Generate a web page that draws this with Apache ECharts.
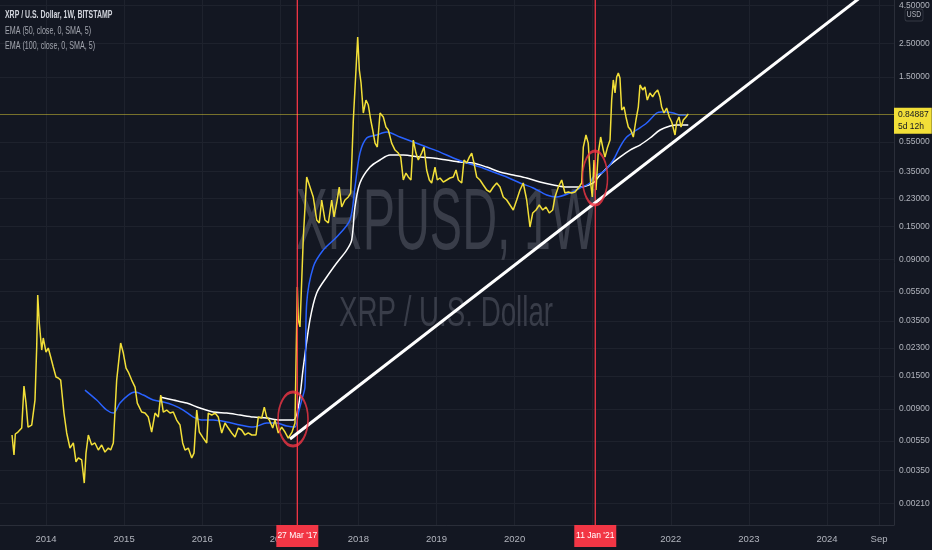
<!DOCTYPE html>
<html>
<head>
<meta charset="utf-8">
<script src="https://cdn.jsdelivr.net/npm/echarts@6/dist/echarts.min.js"></script>
<style>
  html, body { margin: 0; padding: 0; background: #131722; }
  #main { width: 932px; height: 550px; }
</style>
</head>
<body>
<div id="main"></div>
<script>
// x values are decimal years, y values are XRP/USD prices (weekly close)
var xrpClose = [
  [2013.565,0.00604],[2013.590,0.00444],[2013.607,0.00613],[2013.641,0.00632],[2013.689,0.00672],
  [2013.718,0.01283],[2013.744,0.00987],[2013.770,0.00682],[2013.817,0.00704],[2013.859,0.01034],
  [2013.881,0.0234],[2013.894,0.0521],[2013.914,0.0339],[2013.945,0.02234],[2013.965,0.0269],
  [2014.000,0.02166],[2014.029,0.02305],[2014.060,0.02006],[2014.093,0.0172],[2014.128,0.01474],
  [2014.157,0.01452],[2014.188,0.01407],[2014.230,0.00847],[2014.265,0.00623],[2014.307,0.00494],
  [2014.350,0.00534],[2014.384,0.00399],[2014.414,0.00424],[2014.457,0.00411],[2014.490,0.00288],
  [2014.512,0.00457],[2014.542,0.00604],[2014.585,0.00518],[2014.627,0.00534],[2014.670,0.00479],
  [2014.713,0.00518],[2014.755,0.00464],[2014.798,0.00494],[2014.828,0.00479],[2014.862,0.00534],
  [2014.905,0.01407],[2014.956,0.0249],[2014.990,0.02133],[2015.025,0.01693],[2015.054,0.01592],
  [2015.097,0.01407],[2015.140,0.01263],[2015.169,0.00987],[2015.225,0.0086],[2015.268,0.00847],
  [2015.310,0.00796],[2015.353,0.00632],[2015.396,0.00847],[2015.438,0.00796],[2015.469,0.01117],
  [2015.502,0.0086],[2015.545,0.00887],[2015.588,0.00847],[2015.630,0.0086],[2015.673,0.0076],
  [2015.716,0.00704],[2015.750,0.00534],[2015.780,0.00479],[2015.822,0.00494],[2015.866,0.00424],
  [2015.895,0.00457],[2015.930,0.00887],[2015.963,0.00632],[2016.014,0.00576],[2016.058,0.00534],
  [2016.078,0.00847],[2016.122,0.00821],[2016.164,0.00847],[2016.206,0.00796],[2016.250,0.00623],
  [2016.292,0.00726],[2016.334,0.00672],[2016.378,0.00623],[2016.420,0.00585],[2016.462,0.00672],
  [2016.506,0.00652],[2016.548,0.00604],[2016.590,0.00623],[2016.634,0.00604],[2016.689,0.00604],
  [2016.718,0.00796],[2016.762,0.00784],[2016.795,0.00928],[2016.826,0.00796],[2016.859,0.0076],
  [2016.903,0.00672],[2016.932,0.0076],[2016.974,0.00623],[2017.018,0.00682],[2017.060,0.00632],
  [2017.102,0.00576],[2017.124,0.00585],[2017.150,0.00632],[2017.188,0.00726],[2017.218,0.059],
  [2017.231,0.0355],[2017.252,0.0319],[2017.274,0.0319],[2017.295,0.1273],[2017.338,0.321],
  [2017.380,0.275],[2017.422,0.2359],[2017.466,0.1655],[2017.499,0.158],[2017.530,0.2252],
  [2017.572,0.1655],[2017.615,0.158],[2017.658,0.2252],[2017.688,0.1734],[2017.722,0.215],
  [2017.755,0.275],[2017.786,0.2022],[2017.828,0.2252],[2017.871,0.2359],[2017.901,0.2508],
  [2017.935,0.772],[2017.969,1.668],[2017.991,2.774],[2018.012,1.668],[2018.034,1.365],
  [2018.063,0.860],[2018.097,1.05],[2018.127,0.972],[2018.158,0.772],[2018.183,0.662],
  [2018.213,0.541],[2018.242,0.509],[2018.277,0.860],[2018.319,0.809],[2018.353,0.693],
  [2018.383,0.662],[2018.426,0.541],[2018.469,0.486],[2018.511,0.464],[2018.542,0.436],
  [2018.575,0.3065],[2018.609,0.341],[2018.639,0.321],[2018.673,0.3065],[2018.703,0.567],
  [2018.737,0.464],[2018.767,0.417],[2018.810,0.464],[2018.840,0.509],[2018.874,0.3575],
  [2018.908,0.3065],[2018.938,0.2927],[2018.981,0.374],[2019.010,0.3065],[2019.045,0.316],
  [2019.087,0.297],[2019.131,0.3065],[2019.173,0.316],[2019.215,0.321],[2019.250,0.3575],
  [2019.280,0.3065],[2019.323,0.2927],[2019.352,0.417],[2019.387,0.398],[2019.420,0.436],
  [2019.451,0.464],[2019.480,0.398],[2019.515,0.321],[2019.557,0.3065],[2019.599,0.2838],
  [2019.643,0.2627],[2019.685,0.2547],[2019.727,0.275],[2019.771,0.2927],[2019.813,0.275],
  [2019.855,0.2359],[2019.899,0.2252],[2019.941,0.2085],[2019.983,0.1931],[2020.027,0.2252],
  [2020.069,0.2627],[2020.111,0.2927],[2020.155,0.2252],[2020.197,0.1486],[2020.232,0.1844],
  [2020.274,0.1931],[2020.316,0.2085],[2020.360,0.1931],[2020.402,0.2022],[2020.444,0.1844],
  [2020.488,0.1931],[2020.517,0.2359],[2020.560,0.275],[2020.603,0.3065],[2020.645,0.2508],
  [2020.688,0.2547],[2020.731,0.2508],[2020.773,0.2547],[2020.816,0.271],[2020.859,0.2927],
  [2020.880,0.509],[2020.914,0.613],[2020.943,0.541],[2020.974,0.2927],[2020.995,0.2359],
  [2021.017,0.417],[2021.042,0.2627],[2021.071,0.464],[2021.102,0.594],[2021.136,0.486],
  [2021.157,0.436],[2021.187,0.501],[2021.222,0.567],[2021.243,1.05],[2021.264,1.43],
  [2021.286,1.171],[2021.307,1.498],[2021.328,1.593],[2021.349,1.475],[2021.371,0.901],
  [2021.401,0.943],[2021.426,0.809],[2021.456,0.693],[2021.487,0.662],[2021.520,0.594],
  [2021.554,0.772],[2021.584,0.943],[2021.606,1.324],[2021.640,1.226],[2021.669,1.284],
  [2021.699,1.05],[2021.733,1.171],[2021.768,1.101],[2021.797,1.171],[2021.832,1.226],
  [2021.861,1.101],[2021.883,0.943],[2021.913,0.860],[2021.947,0.928],[2021.981,0.809],
  [2022.012,0.749],[2022.054,0.613],[2022.076,0.749],[2022.105,0.809],[2022.131,0.693],
  [2022.160,0.772],[2022.195,0.809],[2022.224,0.849]
];

var ema50 = [
  [2014.499,0.01206],[2014.649,0.01034],[2014.777,0.00887],[2014.862,0.00847],[2014.947,0.00987],
  [2015.054,0.01117],[2015.140,0.01169],[2015.246,0.01117],[2015.374,0.01034],[2015.502,0.01003],
  [2015.630,0.00957],[2015.758,0.00887],[2015.886,0.00796],[2016.014,0.0076],[2016.142,0.0076],
  [2016.314,0.00737],[2016.484,0.00704],[2016.654,0.00682],[2016.826,0.00726],[2016.954,0.00726],
  [2017.082,0.00693],[2017.188,0.00682],[2017.231,0.00847],[2017.274,0.01034],[2017.316,0.01263],
  [2017.338,0.0461],[2017.422,0.0803],[2017.550,0.1042],[2017.722,0.1273],[2017.892,0.1655],
  [2017.956,0.275],[2018.020,0.464],[2018.106,0.585],[2018.234,0.613],[2018.362,0.642],
  [2018.533,0.594],[2018.703,0.550],[2018.874,0.509],[2019.045,0.471],[2019.215,0.430],
  [2019.387,0.398],[2019.557,0.374],[2019.727,0.347],[2019.899,0.321],[2020.069,0.2927],
  [2020.239,0.271],[2020.411,0.2432],[2020.539,0.2359],[2020.709,0.2508],[2020.837,0.271],
  [2020.965,0.2927],[2021.007,0.321],[2021.136,0.347],[2021.264,0.417],[2021.349,0.509],
  [2021.435,0.594],[2021.563,0.662],[2021.691,0.737],[2021.819,0.860],[2021.883,0.874],
  [2021.947,0.874],[2022.032,0.860],[2022.118,0.834],[2022.203,0.834]
];

var ema100 = [
  [2015.460,0.01083],[2015.630,0.01034],[2015.802,0.00987],[2015.972,0.00914],[2016.142,0.0086],
  [2016.314,0.00847],[2016.484,0.00821],[2016.654,0.00796],[2016.826,0.00784],[2016.996,0.0076],
  [2017.166,0.0076],[2017.231,0.00928],[2017.295,0.0172],[2017.380,0.0355],[2017.466,0.0538],
  [2017.594,0.0688],[2017.722,0.0854],[2017.850,0.1042],[2017.914,0.1216],[2017.956,0.2022],
  [2018.020,0.2927],[2018.149,0.374],[2018.277,0.417],[2018.405,0.450],[2018.575,0.450],
  [2018.789,0.436],[2018.959,0.430],[2019.131,0.417],[2019.301,0.404],[2019.471,0.398],
  [2019.643,0.374],[2019.813,0.347],[2019.983,0.331],[2020.155,0.316],[2020.325,0.297],
  [2020.496,0.2838],[2020.667,0.275],[2020.837,0.275],[2021.007,0.2927],[2021.093,0.331],
  [2021.222,0.386],[2021.349,0.436],[2021.478,0.486],[2021.606,0.525],[2021.734,0.585],
  [2021.862,0.662],[2021.990,0.704],[2022.076,0.715],[2022.224,0.715]
];

var trendLine = [[2017.124, 0.00568], [2024.858, 7.61]];
var circleMarks = [[2017.163, 0.00772], [2021.030, 0.316]];
var circleSizes = [[30, 54], [25, 54]];

var eventDates = [2017.218, 2021.033];
var eventLabels = ["27 Mar '17", "11 Jan '21"];
var lastPrice = 0.84887;
var lastPriceLabel = '0.84887\n5d 12h';

var yMin = 0.00151, yMax = 4.9;
var yTicks = [4.5, 2.5, 1.5, 0.55, 0.35, 0.23, 0.15, 0.09, 0.055, 0.035, 0.023, 0.015, 0.009, 0.0055, 0.0035, 0.0021];
var xTicks = [2014, 2015, 2016, 2017, 2018, 2019, 2020, 2021, 2022, 2023, 2024, 2024.666];
var xTickLabels = ['2014', '2015', '2016', '2017', '2018', '2019', '2020', '2021', '2022', '2023', '2024', 'Sep'];

var font = "'Liberation Sans', Arial, sans-serif";
var gridColor = '#1e222d';
var textColor = '#b2b5be';
var red = '#f23645';

var myChart = echarts.init(document.getElementById('main'));

// one thin red vertical line per event, with its date box under the time axis
var eventSeries = eventDates.map(function (d, i) {
    return {
        name: 'Event ' + (i + 1),
        type: 'line',
        data: [[d, yMin], [d, yMax]],
        showSymbol: false,
        lineStyle: { color: red, width: 1.3 },
        z: 4,
        markPoint: {
            silent: true,
            symbol: 'rect',
            symbolSize: [42, 22],
            symbolOffset: [0, 11],
            itemStyle: { color: red },
            label: {
                show: true,
                position: 'inside',
                formatter: eventLabels[i],
                color: '#ffffff',
                fontFamily: font,
                fontSize: 8.5
            },
            data: [{ coord: [d, yMin] }]
        }
    };
});

var option = {
    backgroundColor: '#131722',
    animation: false,
    grid: { left: 0, right: 38, top: 0, bottom: 25, outerBoundsMode: 'none', containLabel: false },
    xAxis: {
        type: 'value',
        min: 2013.411,
        max: 2024.858,
        axisLine: { show: true, lineStyle: { color: '#2a2e39' } },
        axisTick: { show: false, customValues: xTicks },
        splitLine: { show: true, lineStyle: { color: gridColor } },
        axisLabel: {
            customValues: xTicks,
            color: textColor,
            fontFamily: font,
            fontSize: 9.5,
            margin: 9,
            formatter: function (v) {
                var i = xTicks.indexOf(v);
                return i >= 0 ? xTickLabels[i] : '';
            }
        }
    },
    yAxis: {
        type: 'log',
        logBase: 10,
        position: 'right',
        min: yMin,
        max: yMax,
        axisLine: { show: true, lineStyle: { color: '#2a2e39' } },
        axisTick: { show: false, customValues: yTicks },
        splitLine: { show: true, lineStyle: { color: gridColor } },
        axisLabel: {
            customValues: yTicks,
            color: textColor,
            fontFamily: font,
            fontSize: 8.5,
            margin: 5,
            formatter: function (v) { return Number(v).toFixed(5); }
        }
    },
    graphic: [
        { type: 'text', x: 446, y: 225, z: 1, scaleX: 0.55, silent: true,
          style: { text: 'XRPUSD, 1W', fontSize: 88, fontFamily: 'Liberation Sans', fill: '#393d49', align: 'center', verticalAlign: 'middle' } },
        { type: 'text', x: 446, y: 314, z: 1, scaleX: 0.66, silent: true,
          style: { text: 'XRP / U.S. Dollar', fontSize: 42, fontFamily: 'Liberation Sans', fill: '#393d49', align: 'center', verticalAlign: 'middle' } },
        { type: 'text', x: 5, y: 15, z: 10, scaleX: 0.66,
          style: { text: 'XRP / U.S. Dollar, 1W, BITSTAMP', fontSize: 10.5, fontWeight: 'bold', fontFamily: 'Liberation Sans', fill: '#d1d4dc', verticalAlign: 'middle' } },
        { type: 'text', x: 5, y: 31, z: 10, scaleX: 0.68,
          style: { text: 'EMA (50, close, 0, SMA, 5)', fontSize: 10.5, fontFamily: 'Liberation Sans', fill: '#a3a6af', verticalAlign: 'middle' } },
        { type: 'text', x: 5, y: 46, z: 10, scaleX: 0.68,
          style: { text: 'EMA (100, close, 0, SMA, 5)', fontSize: 10.5, fontFamily: 'Liberation Sans', fill: '#a3a6af', verticalAlign: 'middle' } },
        { type: 'text', x: 914, y: 15, z: 10, scaleX: 0.75,
          style: { text: 'USD', fontSize: 9, fontFamily: 'Liberation Sans', fill: textColor, align: 'center', verticalAlign: 'middle',
                   backgroundColor: '#131722', borderColor: '#363a45', borderWidth: 1, borderRadius: 2, padding: [1, 2] } }
    ],
    series: [
        {
            name: 'EMA (100)',
            type: 'line',
            data: ema100,
            showSymbol: false,
            smooth: 0.3,
            lineStyle: { color: '#ffffff', width: 1.5 },
            z: 3
        },
        {
            name: 'EMA (50)',
            type: 'line',
            data: ema50,
            showSymbol: false,
            smooth: 0.3,
            lineStyle: { color: '#2962ff', width: 1.5 },
            z: 3
        },
        {
            name: 'XRPUSD',
            type: 'line',
            data: xrpClose,
            showSymbol: false,
            lineStyle: { color: '#f2df38', width: 1.5 },
            z: 4,
            markLine: {
                silent: true,
                symbol: ['none', 'none'],
                lineStyle: { color: 'rgba(242,223,56,0.45)', width: 1, type: 'solid' },
                label: {
                    position: 'end', distance: 0, offset: [0, 7],
                    formatter: lastPriceLabel,
                    backgroundColor: '#f2df38', color: '#131722',
                    fontFamily: font, fontSize: 8.5, lineHeight: 12,
                    padding: [1, 3, 1, 4]
                },
                data: [{ yAxis: lastPrice }]
            }
        }
    ].concat(eventSeries, [
        {
            name: 'Trend',
            type: 'line',
            data: trendLine,
            showSymbol: false,
            clip: true,
            lineStyle: { color: '#ffffff', width: 3 },
            z: 5
        },
        {
            name: 'Marks',
            type: 'scatter',
            symbol: 'circle',
            data: circleMarks.map(function (p, i) {
                return { value: p, symbolSize: circleSizes[i] };
            }),
            itemStyle: { color: 'rgba(0,0,0,0)', borderColor: red, borderWidth: 2.2 },
            z: 6
        }
    ])
};

myChart.setOption(option);
</script>
</body>
</html>
